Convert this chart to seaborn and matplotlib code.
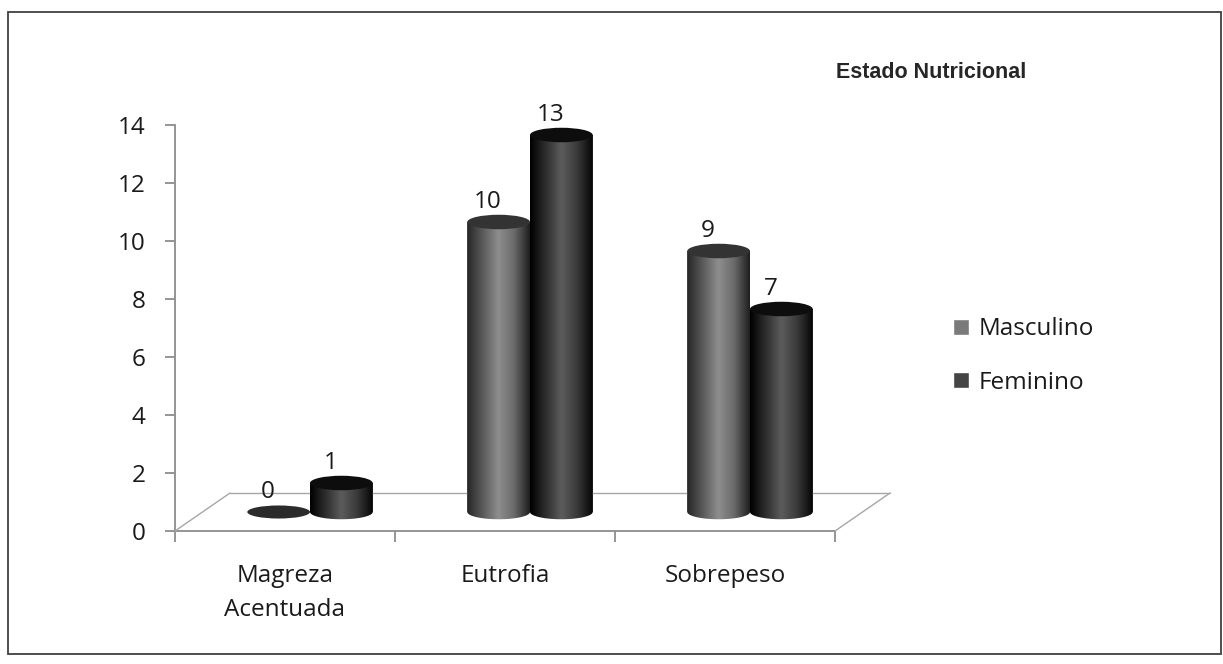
import numpy as np
import pandas as pd
import seaborn as sns
import matplotlib.pyplot as plt
from matplotlib.patches import PathPatch, Ellipse, Rectangle
from matplotlib.path import Path
from matplotlib.transforms import ScaledTranslation
from matplotlib.colors import LinearSegmentedColormap

# dados
categorias = ['Magreza\nAcentuada', 'Eutrofia', 'Sobrepeso']
series = ['Masculino', 'Feminino']
masculino = [0, 10, 9]
feminino = [1, 13, 7]
yticks = [0, 2, 4, 6, 8, 10, 12, 14]

df = pd.DataFrame({
    'categoria': categorias * 2,
    'sexo': [series[0]] * 3 + [series[1]] * 3,
    'valor': masculino + feminino,
})

sns.set_style('ticks')
plt.rcParams['font.family'] = ['Open Sans', 'DejaVu Sans']
FS = 17.5
TXT = '#1a1a1a'

W, H = 1223, 664
fig = plt.figure(figsize=(W / 100, H / 100), dpi=100)
fig.patches.append(Rectangle((8 / W, 10 / H), 1213 / W, 642 / H, transform=fig.transFigure,
                             fill=False, edgecolor='#404040', linewidth=1.3))

ax = fig.add_axes([175 / W, (H - 531) / H, 660 / W, 406 / H])

cor_legenda = {'Masculino': '#7a7a7a', 'Feminino': '#454545'}
sns.barplot(data=df, x='categoria', y='valor', hue='sexo', palette=cor_legenda,
            width=0.57, saturation=1, ax=ax)

ax.set_xlim(-0.5, 2.5)
ax.set_ylim(0, 14)
ax.autoscale(False)

# deslocamentos "3D"
cil_t = ax.transData + ScaledTranslation(0.25, 0.19, fig.dpi_scale_trans)
rot_t = ax.transData + ScaledTranslation(0.14, 0.39, fig.dpi_scale_trans)
piso_t = ax.transData + ScaledTranslation(0.55, 0.38, fig.dpi_scale_trans)

# piso
cinza = '#a6a6a6'
ax.plot([-0.5, 2.5], [0, 0], transform=piso_t, color=cinza, lw=1, zorder=1, clip_on=False)
for x in (-0.5, 2.5):
    ax.annotate('', xy=(x, 0), xytext=(55, 38), textcoords='offset pixels',
                arrowprops=dict(arrowstyle='-', color=cinza, lw=1, shrinkA=0, shrinkB=0),
                annotation_clip=False)

# cilindros
cmaps = {
    'Masculino': LinearSegmentedColormap.from_list('m', ['#262626', '#5a5a5a', '#8e8e8e', '#6a6a6a', '#1e1e1e']),
    'Feminino': LinearSegmentedColormap.from_list('f', ['#000000', '#2e2e2e', '#5c5c5c', '#3a3a3a', '#050505']),
}
topo = {'Masculino': '#333333', 'Feminino': '#0d0d0d'}
grad = np.linspace(0, 1, 256).reshape(1, -1)
eh = 0.5

for cont, nome in zip(ax.containers, series):
    for p in cont.patches:
        x0, w, h = p.get_x(), p.get_width(), p.get_height()
        cx = x0 + w / 2
        p.set_transform(cil_t)
        p.set_edgecolor('none')
        if h > 0:
            th = np.linspace(np.pi, 2 * np.pi, 60)
            arco = np.column_stack([cx + w / 2 * np.cos(th), eh / 2 * np.sin(th)])
            verts = np.vstack([[x0, h], arco, [x0 + w, h], [x0, h]])
            codes = [Path.MOVETO] + [Path.LINETO] * (len(verts) - 2) + [Path.CLOSEPOLY]
            corpo = PathPatch(Path(verts, codes), transform=cil_t, fc='none', ec='none', zorder=3)
            ax.add_patch(corpo)
            im = ax.imshow(grad, cmap=cmaps[nome], extent=(x0, x0 + w, -eh, h), aspect='auto',
                           transform=cil_t, zorder=3, interpolation='bicubic')
            im.set_clip_path(corpo)
            ax.add_patch(Ellipse((cx, h), w, eh, transform=cil_t, fc=topo[nome], ec='none', zorder=4))
        else:
            ax.add_patch(Ellipse((cx, 0), w, eh * 0.9, transform=cil_t, fc='#2b2b2b', ec='none', zorder=4))
        ax.text(cx, h, f'{h:.0f}', transform=rot_t, ha='center', va='center',
                fontsize=FS, color=TXT, zorder=5)

ax.set_xlim(-0.5, 2.5)
ax.set_ylim(0, 14)

# eixos
ax.set_xlabel('')
ax.set_ylabel('')
ax.set_yticks(yticks)
ax.set_xticks([-0.5, 0.5, 1.5, 2.5], labels=[])
ax.set_xticks([0, 1, 2], labels=categorias, minor=True)
for t in ax.get_xticklabels(minor=True):
    t.set_linespacing(1.55)
sns.despine(ax=ax)
for s in ('left', 'bottom'):
    ax.spines[s].set_color('#8c8c8c')
    ax.spines[s].set_linewidth(1.3)
ax.tick_params(axis='y', length=7, width=1.3, color='#8c8c8c', labelsize=FS,
               labelcolor=TXT, pad=14)
ax.tick_params(axis='x', which='major', length=8, width=1.3, color='#8c8c8c')
ax.tick_params(axis='x', which='minor', length=0, pad=24, labelsize=FS, labelcolor=TXT)

# legenda e título
sns.move_legend(ax, 'center left', bbox_to_anchor=((931 - 175) / 660, (531 - 356) / 406),
                title=None, frameon=False, fontsize=FS, handlelength=0.65, handleheight=0.65,
                handletextpad=0.4, labelspacing=1.2)
for t in ax.get_legend().get_texts():
    t.set_color(TXT)

fig.text(931 / W, 1 - 72 / H, 'Estado Nutricional', ha='center', va='center',
         fontsize=15.5, fontweight='bold', family=['Liberation Sans', 'DejaVu Sans'])

fig.savefig('out.png', dpi=100)
